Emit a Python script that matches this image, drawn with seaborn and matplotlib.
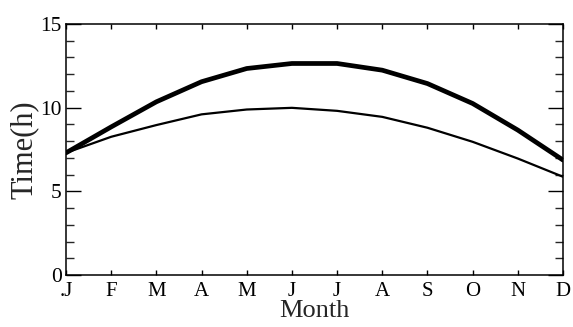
import matplotlib
matplotlib.use("Agg")
import matplotlib.pyplot as plt
from matplotlib.ticker import MultipleLocator
import seaborn as sns
import pandas as pd

months = [".J", "F", "M", "A", "M", "J", "J", "A", "S", "O", "N", "D"]
long_curve = [7.3, 8.85, 10.35, 11.55, 12.34, 12.64, 12.64, 12.24, 11.44, 10.25, 8.66, 6.87]
short_curve = [7.3, 8.26, 8.96, 9.6, 9.89, 9.99, 9.81, 9.45, 8.8, 7.96, 6.96, 5.87]

sns.set_style("ticks")
plt.rcParams["font.family"] = ["Liberation Serif", "DejaVu Serif"]

idx = list(range(len(months)))
df = pd.DataFrame({
    "m": idx * 2,
    "t": long_curve + short_curve,
    "s": ["long"] * len(idx) + ["short"] * len(idx),
})

fig = plt.figure(figsize=(5.73, 3.27), dpi=100)
ax = fig.add_axes([66 / 573, 52 / 327, 497 / 573, 251 / 327])

sns.lineplot(data=df[df.s == "long"], x="m", y="t", color="black", lw=3.4, ax=ax,
             legend=False)
sns.lineplot(data=df[df.s == "short"], x="m", y="t", color="black", lw=1.6, ax=ax,
             legend=False)

ax.set_xlim(0, len(months) - 1)
ax.set_ylim(0, 15)
ax.set_xticks(idx)
ax.set_xticklabels(months, fontsize=15)
ax.yaxis.set_major_locator(MultipleLocator(5))
ax.yaxis.set_minor_locator(MultipleLocator(1))
ax.tick_params(axis="y", labelsize=15.5)
ax.tick_params(axis="x", which="major", direction="in", length=3.5, width=1,
               top=True, pad=5, colors="black")
ax.tick_params(axis="y", which="major", direction="in", length=11, width=1,
               right=True, pad=3, colors="black")
ax.tick_params(axis="y", which="minor", direction="in", length=6, width=1,
               right=True)
for sp in ax.spines.values():
    sp.set_visible(True)
    sp.set_linewidth(1.1)
    sp.set_color("black")

ax.set_xlabel("Month", fontsize=19, labelpad=-1)
ax.set_ylabel("Time(h)", fontsize=22, labelpad=1)

fig.savefig("out.png", dpi=100)
